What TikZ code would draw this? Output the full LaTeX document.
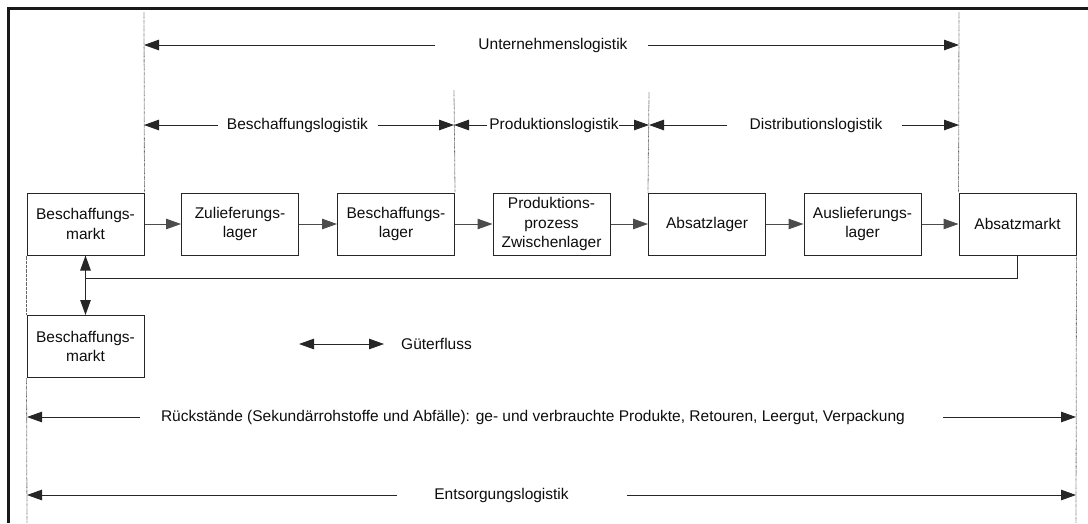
\documentclass[tikz,border=0pt]{standalone}
\usepackage{fontspec}
\setmainfont{Liberation Sans}
\usetikzlibrary{arrows.meta}
\begin{document}
\begin{tikzpicture}[x=1pt,y=-1pt,
  every node/.style={font=\fontsize{15.5}{19.5}\selectfont, text=black!95},
  box/.style={draw=black!85, line width=1pt, minimum width=117pt, minimum height=62pt, align=center, inner sep=2pt},
  flow/.style={line width=1pt, draw=black!70, -{Triangle[length=15pt,width=10.5pt]}},
  flowboth/.style={line width=1pt, draw=black!85, {Triangle[length=15pt,width=10.5pt]}-{Triangle[length=15pt,width=10.5pt]}},
  spanarrow/.style={line width=1pt, draw=black!85, -{Triangle[length=15pt,width=10.5pt]}},
  plainline/.style={line width=1pt, draw=black!85},
  guide/.style={draw=black!60, line width=0.8pt, dash pattern=on 0.7pt off 0.6pt},
  lbl/.style={inner sep=0pt, anchor=center}]

\useasboundingbox (0,0) rectangle (1088,523);

% outer frame (top and left edges)
\draw[line width=3pt, black!90] (8,523) -- (8,8.5) -- (1088,8.5);

% material flow chain
\node[box] (bm)  at (85.5,224)   {Beschaffungs-\\markt};
\node[box] (zl)  at (240,224)    {Zulieferungs-\\lager};
\node[box] (bl)  at (396,224)    {Beschaffungs-\\lager};
\node[box] (pp)  at (551.5,224)  {Produktions-\\prozess\\Zwischenlager};
\node[box] (al)  at (707,224)    {Absatzlager};
\node[box] (ll)  at (862.5,224)  {Auslieferungs-\\lager};
\node[box] (am)  at (1017.5,224) {Absatzmarkt};
\node[box] (bm2) at (85.5,346.5) {Beschaffungs-\\markt};

\draw[flow] (bm) -- (zl);
\draw[flow] (zl) -- (bl);
\draw[flow] (bl) -- (pp);
\draw[flow] (pp) -- (al);
\draw[flow] (al) -- (ll);
\draw[flow] (ll) -- (am);

% return flow
\coordinate (ret) at (85.5,278);
\draw[plainline] (am.south) |- (ret);
\draw[flowboth] (bm.south) -- (bm2.north);

% dotted boundary lines
\coordinate (g1top) at (144,12);
\coordinate (g2top) at (454,90);
\coordinate (g3top) at (649,92);
\coordinate (g4top) at (959,12);
\coordinate (gLbot) at (27,523);
\coordinate (gRbot) at (1076,523);
\draw[guide] (g1top) -- (bm.north east);
\draw[guide] (g2top) -- (bl.north east);
\draw[guide] (g3top) -- (al.north west);
\draw[guide] (g4top) -- (am.north west);
\draw[guide] (bm.south west) -- (bm2.north west);
\draw[guide] (bm2.south west) -- (gLbot);
\draw[guide] (am.south east) -- (gRbot);

% Unternehmenslogistik
\node[lbl] (tu) at (553,45) {Unternehmenslogistik};
\coordinate (u1) at (435,45); \coordinate (u2) at (648,45);
\draw[spanarrow] (u1) -- (g1top |- u1);
\draw[spanarrow] (u2) -- (g4top |- u2);

% Beschaffungslogistik
\node[lbl] (tb) at (297.5,125) {Beschaffungslogistik};
\coordinate (b1) at (218,125); \coordinate (b2) at (378,125);
\draw[spanarrow] (b1) -- (g1top |- b1);
\draw[spanarrow] (b2) -- (g2top |- b2);

% Produktionslogistik
\node[lbl] (tp) at (554,125) {Produktionslogistik};
\coordinate (p1) at (487,125); \coordinate (p2) at (619,125);
\draw[spanarrow] (p1) -- (g2top |- p1);
\draw[spanarrow] (p2) -- (g3top |- p2);

% Distributionslogistik
\node[lbl] (td) at (816,125) {Distributionslogistik};
\coordinate (d1) at (727,125); \coordinate (d2) at (902,125);
\draw[spanarrow] (d1) -- (g3top |- d1);
\draw[spanarrow] (d2) -- (g4top |- d2);

% legend
\coordinate (lg1) at (299,344); \coordinate (lg2) at (384,344);
\draw[flowboth] (lg1) -- (lg2);
\node[anchor=west, inner sep=0pt] (lgt) at (401,344) {Güterfluss};

% residues
\node[lbl] (tr) at (533,417) {Rückstände (Sekundärrohstoffe und Abfälle): ge- und verbrauchte Produkte, Retouren, Leergut, Verpackung};
\coordinate (r1) at (140,417); \coordinate (r2) at (943,417);
\draw[spanarrow] (r1) -- (gLbot |- r1);
\draw[spanarrow] (r2) -- (gRbot |- r2);

% Entsorgungslogistik
\node[lbl] (te) at (501.5,495) {Entsorgungslogistik};
\coordinate (e1) at (397,495); \coordinate (e2) at (627,495);
\draw[spanarrow] (e1) -- (gLbot |- e1);
\draw[spanarrow] (e2) -- (gRbot |- e2);
\end{tikzpicture}
\end{document}
